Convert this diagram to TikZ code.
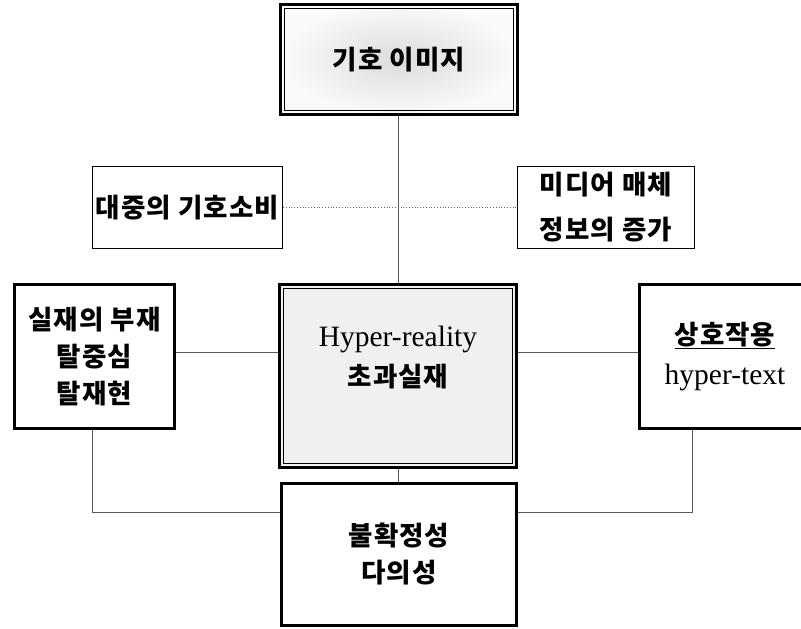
\documentclass[tikz,border=0pt]{standalone}
\usepackage{fontspec}
\setmainfont{Liberation Serif}
\newfontfamily\kr{Noto Sans CJK KR}[LetterSpace=4]
\begin{document}
\begin{tikzpicture}[x=1pt,y=-1pt,
  box/.style={draw,line width=3pt,inner sep=0pt,align=center},
  dblbox/.style={box,path picture={
    \draw[line width=0.9pt] ([shift={(4pt,-4pt)}]path picture bounding box.north west)
      rectangle ([shift={(-4pt,4pt)}]path picture bounding box.south east);}},
  smallbox/.style={draw,line width=0.8pt,inner sep=0pt,align=center},
  ktext/.style={font=\kr\bfseries\fontsize{26.5}{37}\selectfont},
  ltext/.style={font=\rmfamily\fontsize{29.5}{40}\selectfont},
  link/.style={draw=black!65,line width=0.8pt}]
  \useasboundingbox (0,0) rectangle (801,629);
  % boxes
  \node[dblbox,shade,inner color=black!14,outer color=black!2,
        minimum width=237pt,minimum height=110pt,ktext] (sign) at (399,59.5) {기호 이미지};
  \node[smallbox,minimum width=190pt,minimum height=82pt,ktext] (mass) at (187.5,207.5) {대중의 기호소비};
  \node[smallbox,minimum width=177pt,minimum height=82pt,ktext,
        font=\kr\bfseries\fontsize{26.5}{45}\selectfont] (media) at (606,207.5) {미디어 매체\\정보의 증가};
  \node[dblbox,fill=black!6,minimum width=237pt,minimum height=183pt] (hyper) at (398,376) {};
  \node[align=center,ltext] (hypertxt) at ([yshift=18pt]hyper.center)
    {Hyper-reality\\{\kr\bfseries\fontsize{26.5}{40}\selectfont 초과실재}};
  \node[box,minimum width=160pt,minimum height=144pt,ktext] (absent) at (94.5,356.5)
    {실재의 부재\\탈중심\\탈재현};
  \node[box,minimum width=171pt,minimum height=144pt,ltext] (inter) at (725,356.5)
    {{\kr\bfseries\fontsize{26.5}{35}\selectfont\underline{상호작용}}\\hyper-text};
  \node[box,minimum width=235pt,minimum height=142pt,ktext] (uncert) at (399,554.5)
    {불확정성\\다의성};
  % connectors
  \draw[link] (sign.south -| hyper.north) -- (hyper.north);
  \draw[draw=black!60,dotted,line width=0.8pt] (mass.east) -- (media.west);
  \draw[link] ([yshift=24pt]hyper.west) -- ([yshift=24pt]hyper.west -| absent.east);
  \draw[link] ([yshift=24pt]hyper.east) -- ([yshift=24pt]hyper.east -| inter.west);
  \draw[link] (hyper.south) -- (hyper.south |- uncert.north);
  \draw[link] ([xshift=-2pt]absent.south) |- ([yshift=42pt]uncert.west);
  \draw[link] ([xshift=-33pt]inter.south) |- ([yshift=42pt]uncert.east);
\end{tikzpicture}
\end{document}
